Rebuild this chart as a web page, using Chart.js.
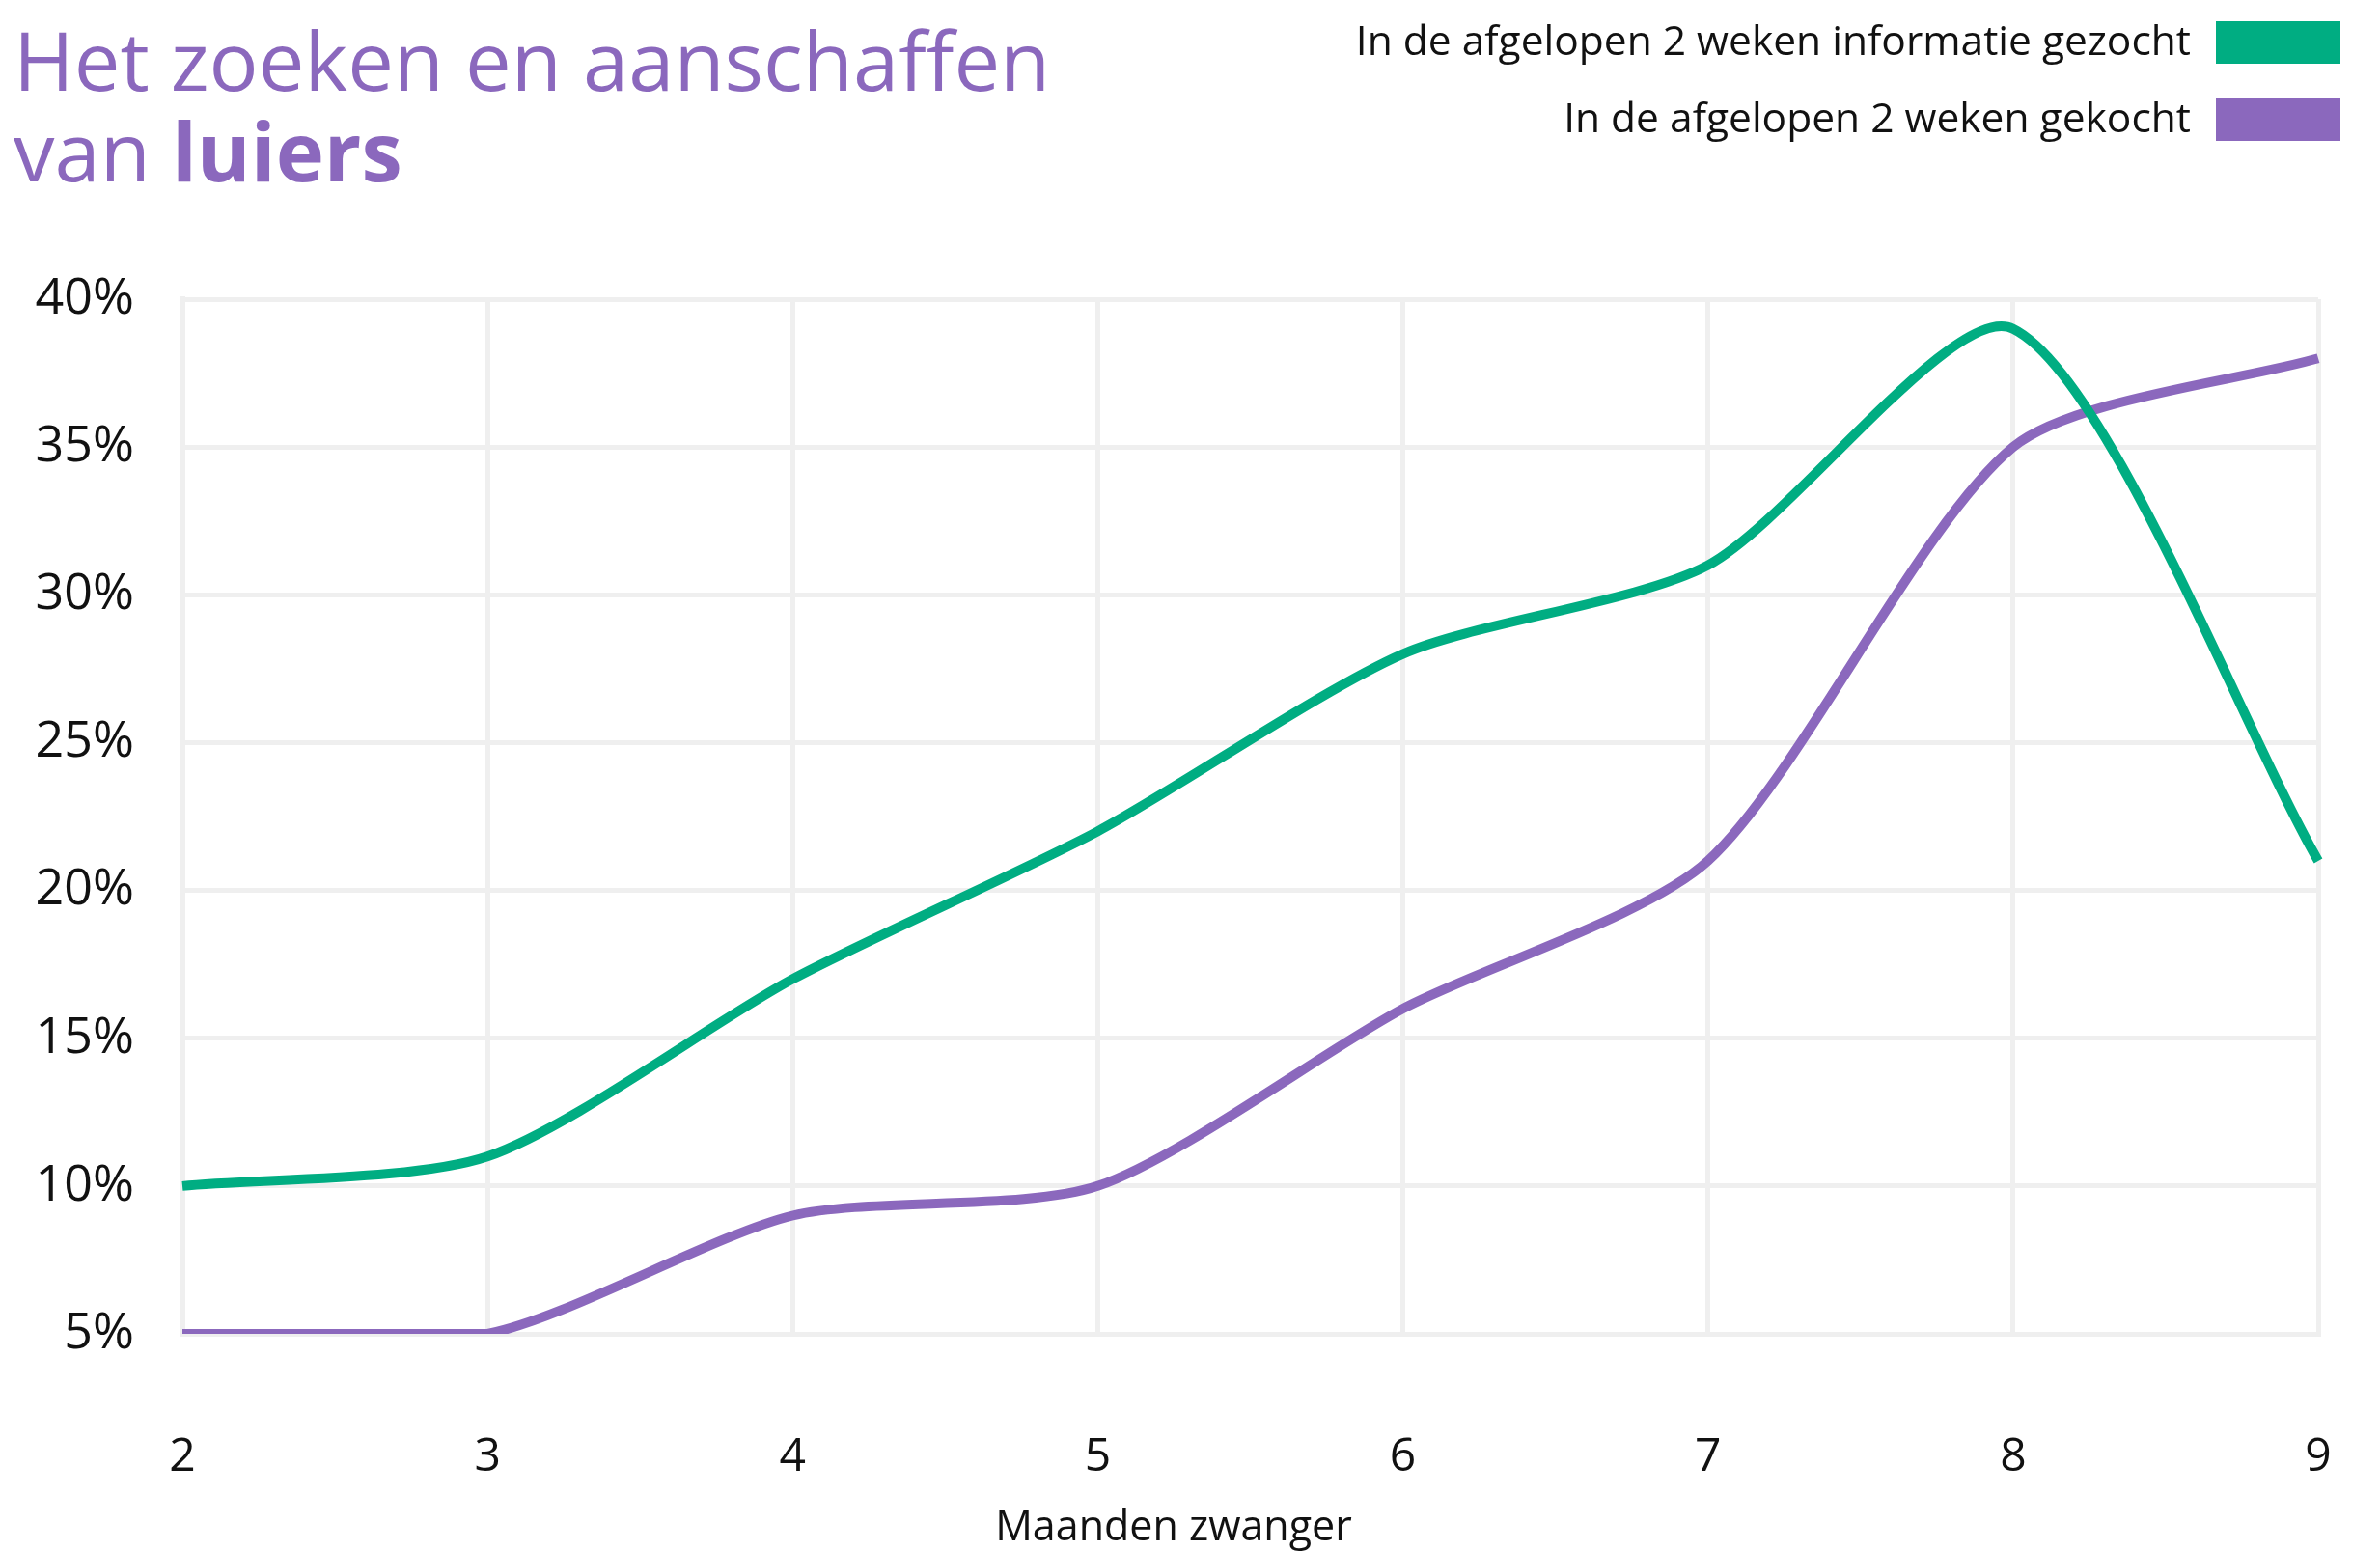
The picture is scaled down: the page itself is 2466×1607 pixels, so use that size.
<!DOCTYPE html>
<html>
<head>
<meta charset="utf-8">
<script src="https://cdn.jsdelivr.net/npm/chart.js@4"></script>
<style>
  html, body { margin: 0; padding: 0; background: #fff; }
  body { width: 2466px; height: 1607px; position: relative; overflow: hidden; font-family: "Open Sans", sans-serif; }
  #wrap { position: absolute; left: 0; top: 0; width: 2466px; height: 1607px; }
  #title { position: absolute; left: 14px; top: 14px; color: #8b68bd; font-size: 85px; line-height: 94px; font-weight: 400; }
  #title b { font-weight: 700; }
  #legend { position: absolute; right: 41px; top: 22px; }
  .item { display: flex; justify-content: flex-end; align-items: center; height: 44px; margin-bottom: 36px; font-size: 42.5px; color: #111; }
  .item .txt { position: relative; top: -4px; }
  .box { width: 129px; height: 44px; margin-left: 26px; }
  #xtitle { position: absolute; left: 1016px; width: 400px; top: 1550px; text-align: center; font-size: 43px; color: #111; }
</style>
</head>
<body>
<div id="wrap"><canvas id="chart"></canvas></div>
<div id="title">Het zoeken en aanschaffen<br>van <b>luiers</b></div>
<div id="legend"></div>
<div id="xtitle">Maanden zwanger</div>
<script>
// months pregnant
var months = ['2', '3', '4', '5', '6', '7', '8', '9'];
// percentages
var infoGezocht = [10, 11, 17, 22, 28, 31, 39, 21];
var gekocht = [5, 5, 9, 10, 16, 21, 35, 38];
var yTicks = [5, 10, 15, 20, 25, 30, 35, 40];

var seriesNames = ['In de afgelopen 2 weken informatie gezocht', 'In de afgelopen 2 weken gekocht'];
var green = '#00ad82';
var purple = '#8b68bd';

var legend = document.getElementById('legend');
[[seriesNames[0], green], [seriesNames[1], purple]].forEach(function (s) {
    var row = document.createElement('div');
    row.className = 'item';
    row.innerHTML = '<span class="txt">' + s[0] + '</span><span class="box" style="background:' + s[1] + '"></span>';
    legend.appendChild(row);
});

Chart.defaults.font.family = '"Open Sans", sans-serif';
Chart.defaults.color = '#111';

var ctx = document.getElementById('chart');
new Chart(ctx, {
    type: 'line',
    data: {
        labels: months,
        datasets: [
            {
                label: seriesNames[0],
                data: infoGezocht,
                borderColor: green,
                borderWidth: 10,
                pointRadius: 0,
                tension: 0.25,
                fill: false
            },
            {
                label: seriesNames[1],
                data: gekocht,
                borderColor: purple,
                borderWidth: 10,
                pointRadius: 0,
                tension: 0.25,
                fill: false
            }
        ]
    },
    options: {
        responsive: true,
        maintainAspectRatio: false,
        animation: false,
        layout: { padding: { top: 310, right: 64, bottom: 0, left: 0 } },
        plugins: { legend: { display: false }, tooltip: { enabled: false } },
        scales: {
            x: {
                // long invisible tick marks push the labels down without widening the side padding
                grid: { color: '#efefef', lineWidth: 5, drawTicks: true, tickLength: 90, tickColor: 'rgba(0,0,0,0)' },
                border: { color: '#efefef', width: 5 },
                ticks: { font: { size: 48 }, padding: 10, maxRotation: 0 },
                afterFit: function (scale) { scale.height = 225; }
            },
            y: {
                min: 5,
                max: 40,
                afterBuildTicks: function (scale) {
                    scale.ticks = yTicks.map(function (v) { return { value: v }; });
                },
                grid: { color: '#efefef', lineWidth: 5, drawTicks: false },
                border: { color: '#efefef', width: 6 },
                ticks: {
                    font: { size: 52 },
                    padding: 50,
                    callback: function (v) { return v + '%'; }
                },
                afterFit: function (scale) { scale.width = 189; }
            }
        }
    }
});
</script>
</body>
</html>
